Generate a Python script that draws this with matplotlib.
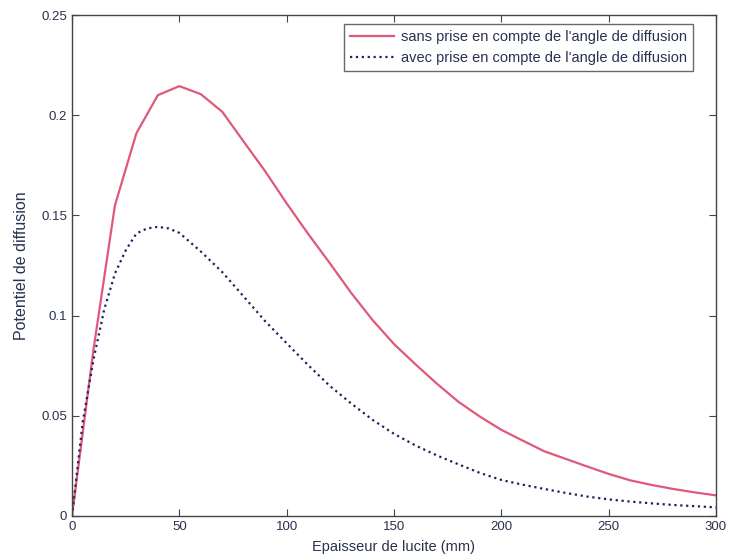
import matplotlib
matplotlib.use("Agg")
import matplotlib.pyplot as plt

# Data
x_sans = [0, 10, 20, 30, 40, 50, 60, 70, 80, 90, 100, 110, 120, 130, 140, 150,
          160, 170, 180, 190, 200, 210, 220, 230, 240, 250, 260, 270, 280, 290, 300]
y_sans = [0, 0.083, 0.155, 0.191, 0.210, 0.2145, 0.2105, 0.2017, 0.1868, 0.172,
          0.156, 0.1408, 0.1263, 0.1114, 0.0978, 0.0858, 0.0757, 0.066, 0.057,
          0.0496, 0.043, 0.0376, 0.0323, 0.0285, 0.0247, 0.021, 0.0178, 0.0155,
          0.0135, 0.0118, 0.0103]

x_avec = [0, 5, 10, 15, 20, 25, 30, 35, 40, 45, 50, 60, 70, 80, 90, 100, 110,
          120, 130, 140, 150, 160, 170, 180, 190, 200, 210, 220, 230, 240, 250,
          260, 270, 280, 290, 300]
y_avec = [0, 0.047, 0.078, 0.103, 0.121, 0.1325, 0.141, 0.1435, 0.1443, 0.1435,
          0.1413, 0.132, 0.1217, 0.1095, 0.0972, 0.0862, 0.0753, 0.065, 0.0562,
          0.048, 0.041, 0.0352, 0.0302, 0.0258, 0.0215, 0.018, 0.0156, 0.0135,
          0.0115, 0.0097, 0.0083, 0.0072, 0.0063, 0.0055, 0.0049, 0.0043]

labels = ["sans prise en compte de l'angle de diffusion",
          "avec prise en compte de l'angle de diffusion"]

xticks = [0, 50, 100, 150, 200, 250, 300]
yticks = [0, 0.05, 0.1, 0.15, 0.2, 0.25]
ytick_labels = ["0", "0.05", "0.1", "0.15", "0.2", "0.25"]

plt.rcParams['font.family'] = ['Liberation Sans', 'DejaVu Sans']
txt = '#2a3050'

fig = plt.figure(figsize=(7.29, 5.60), dpi=100)
ax = fig.add_axes([72/729, 1-516/560, (716-72)/729, (516-15)/560])

ax.plot(x_sans, y_sans, color='#e0587a', lw=1.6, label=labels[0])
ax.plot(x_avec, y_avec, color='#1c2460', lw=1.6, linestyle=':', label=labels[1])

ax.set_xlim(0, 300)
ax.set_ylim(0, 0.25)
ax.set_xticks(xticks)
ax.set_xticklabels([str(v) for v in xticks])
ax.set_yticks(yticks)
ax.set_yticklabels(ytick_labels)
ax.tick_params(direction='in', top=True, right=True, labelsize=9.5,
               colors='#444444', labelcolor=txt, length=5)
for s in ax.spines.values():
    s.set_color('#444444')
    s.set_linewidth(1.0)

ax.set_xlabel("Epaisseur de lucite (mm)", fontsize=10.5, color=txt, labelpad=5)
ax.set_ylabel("Potentiel de diffusion", fontsize=11.5, color=txt, labelpad=9)

leg = ax.legend(loc='upper right', bbox_to_anchor=(0.964, 0.982), fontsize=10.5,
                frameon=True, fancybox=False, edgecolor='#444444',
                handlelength=3.0, handletextpad=0.5, borderpad=0.4,
                labelspacing=0.5, borderaxespad=0)
for t in leg.get_texts():
    t.set_color(txt)
leg.get_frame().set_linewidth(1.0)

fig.savefig("out.png", dpi=100)
